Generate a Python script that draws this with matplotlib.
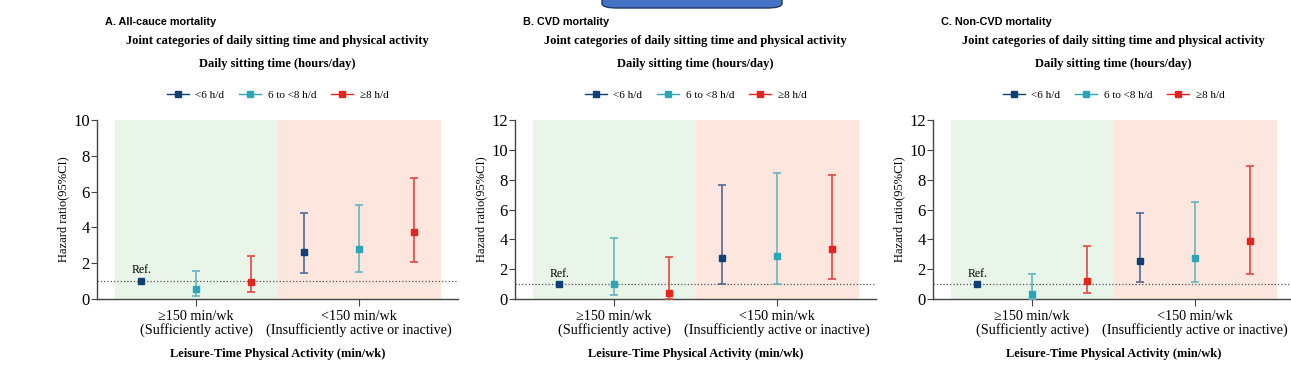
import matplotlib
matplotlib.use("Agg")
import matplotlib.pyplot as plt
from matplotlib.patches import FancyBboxPatch
import numpy as np

W, H = 1291, 365

# data: rows = activity group, cols = sitting time category
activity_groups = ["\u2265150 min/wk\n(Sufficiently active)",
                   "<150 min/wk\n(Insufficiently active or inactive)"]
sitting_cats = ["<6 h/d", "6 to <8 h/d", "\u22658 h/d"]
panel_titles = ["A. All-cauce mortality", "B. CVD mortality", "C. Non-CVD mortality"]
y_max = [10, 12, 12]

hr_all = [[1.00, 0.56, 0.97], [2.62, 2.81, 3.74]]
lo_all = [[1.00, 0.19, 0.41], [1.45, 1.49, 2.06]]
hi_all = [[1.00, 1.54, 2.40], [4.78, 5.26, 6.75]]

hr_cvd = [[1.00, 1.00, 0.38], [2.74, 2.86, 3.32]]
lo_cvd = [[1.00, 0.25, 0.02], [0.98, 1.00, 1.32]]
hi_cvd = [[1.00, 4.08, 2.81], [7.67, 8.43, 8.30]]

hr_non = [[1.00, 0.33, 1.23], [2.54, 2.74, 3.90]]
lo_non = [[1.00, 0.02, 0.42], [1.12, 1.14, 1.70]]
hi_non = [[1.00, 1.65, 3.57], [5.78, 6.51, 8.94]]

panels = [(hr_all, lo_all, hi_all), (hr_cvd, lo_cvd, hi_cvd), (hr_non, lo_non, hi_non)]

marker_colors = ["#0f3f73", "#2ba6b6", "#e8231d"]
bar_colors = ["#4f6996", "#63b6c0", "#e4473f"]
SERIF = ["Liberation Serif", "DejaVu Serif"]
SANS = ["Liberation Sans", "DejaVu Sans"]


def fx(x):
    return x / W


def fy(y):
    return 1 - y / H


fig = plt.figure(figsize=(W / 100, H / 100), dpi=100)

offsets = [-0.337, 0.0, 0.337]
unit = 163.0
xlim = (-0.61, 1.61)

for k, (hr, lo, hi) in enumerate(panels):
    shift = 418 * k
    left_px = 196 + shift + xlim[0] * unit
    width_px = (xlim[1] - xlim[0]) * unit
    ax = fig.add_axes([fx(left_px), fy(299), width_px / W, (299 - 120) / H])

    ax.axvspan(-0.5, 0.5, color="#e9f5e8", lw=0, zorder=0)
    ax.axvspan(0.5, 1.5, color="#fde6dd", lw=0, zorder=0)
    ax.axhline(1, color="#555555", ls=":", lw=0.9, zorder=1)

    for g in range(2):
        for s in range(3):
            x = g + offsets[s]
            y = hr[g][s]
            if g == 0 and s == 0:
                ax.plot([x], [y], "s", color=marker_colors[s], ms=5, zorder=4)
                ax.text(x, y + 0.3, "Ref.", ha="center", va="bottom",
                        fontsize=8.5, family=SERIF)
                continue
            ax.errorbar([x], [y], yerr=[[y - lo[g][s]], [hi[g][s] - y]],
                        fmt="none", ecolor=bar_colors[s], elinewidth=1.2,
                        capsize=3, capthick=1.2, zorder=3)
            ax.plot([x], [y], "s", color=marker_colors[s], ms=5, zorder=4)

    # legend handles
    for s in range(3):
        ax.plot([], [], "-s", color=marker_colors[s], ms=4, lw=1,
                markerfacecolor=marker_colors[s], label=sitting_cats[s])

    ax.set_xlim(*xlim)
    ax.set_ylim(0, y_max[k])
    ax.set_yticks(np.arange(0, y_max[k] + 1, 2))
    ax.set_xticks([0, 1])
    ax.set_xticklabels(activity_groups, family=SERIF, fontsize=10.2, linespacing=0.95)
    for lab in ax.get_yticklabels():
        lab.set_family(SERIF)
        lab.set_fontsize(12)
    ax.tick_params(axis="x", length=5, pad=3, color="#444444")
    ax.tick_params(axis="y", length=4, pad=1, color="#444444")
    for sp in ["top", "right"]:
        ax.spines[sp].set_visible(False)
    for sp in ["left", "bottom"]:
        ax.spines[sp].set_color("#444444")
        ax.spines[sp].set_linewidth(1.0)
    ax.set_ylabel("Hazard ratio(95%CI)", family=SERIF, fontsize=9, labelpad=3)

    ax.legend(loc="center", bbox_to_anchor=(0.5, (fy(95) - fy(299)) / ((299 - 120) / H)),
              ncol=3, frameon=False, prop={"family": SERIF, "size": 8},
              handlelength=2.0, columnspacing=1.3, handletextpad=0.6)

    cx = 196 + shift + 0.5 * unit
    fig.text(fx(105 + shift), fy(22), panel_titles[k], family=SANS,
             fontweight="bold", fontsize=7.8, ha="left", va="center")
    fig.text(fx(cx), fy(41), "Joint categories of daily sitting time and physical activity",
             family=SERIF, fontweight="bold", fontsize=9, ha="center", va="center")
    fig.text(fx(cx), fy(64), "Daily sitting time (hours/day)",
             family=SERIF, fontweight="bold", fontsize=9, ha="center", va="center")
    fig.text(fx(cx), fy(354), "Leisure-Time Physical Activity (min/wk)",
             family=SERIF, fontweight="bold", fontsize=9, ha="center", va="center")

# stray blue box at the top
box = FancyBboxPatch((fx(602), fy(8)), fx(180), fy(-10) - fy(8),
                     boxstyle="round,pad=0,rounding_size=0.012",
                     transform=fig.transFigure, facecolor="#4472c4",
                     edgecolor="#1f3864", lw=1.0, clip_on=False)
fig.patches.append(box)

fig.savefig("out.png", dpi=100)
